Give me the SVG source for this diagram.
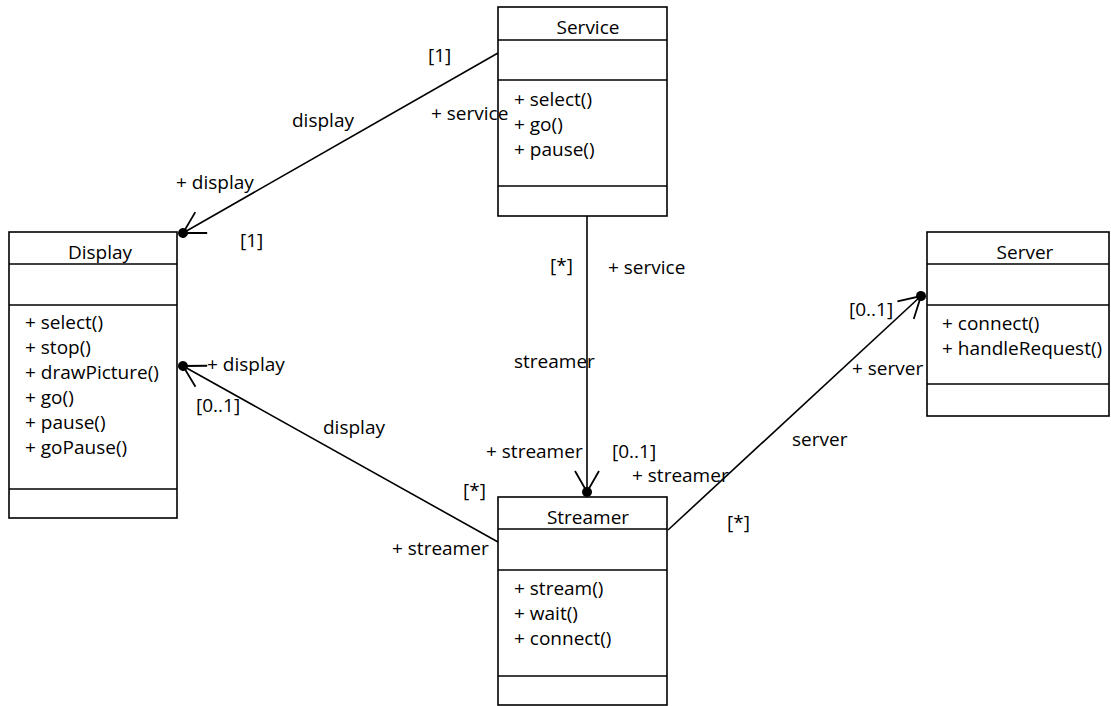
<svg xmlns="http://www.w3.org/2000/svg" width="1111" height="706" viewBox="0 0 1111 706">
  <style>
    .box { fill: #ffffff; stroke: #000000; stroke-width: 1.6; }
    .sep { stroke: #000000; stroke-width: 1.6; }
    .edge { fill: none; stroke: #000000; stroke-width: 1.6; }
    text { font-family: "Open Sans", "Noto Sans", sans-serif; font-size: 19px; fill: #000000; }
    .title { text-anchor: middle; }
  </style>
  <defs>
    <!-- navigable association end: open arrow with a filled dot at the tip -->
    <marker id="navEnd" markerUnits="userSpaceOnUse" orient="auto" refX="0" refY="0"
            markerWidth="50" markerHeight="50" viewBox="-35 -25 50 50" overflow="visible">
      <path d="M -21 -12 L 0 0 L -21 12" fill="none" stroke="#000" stroke-width="1.8"/>
      <circle cx="0" cy="0" r="5" fill="#000"/>
    </marker>
  </defs>

  <rect width="1111" height="706" fill="#ffffff"/>

  <g id="service">
    <rect class="box" x="498" y="7" width="169" height="209"/>
    <line class="sep" x1="498" y1="40" x2="667" y2="40"/>
    <line class="sep" x1="498" y1="80" x2="667" y2="80"/>
    <line class="sep" x1="498" y1="186" x2="667" y2="186"/>
    <text class="title" x="588" y="34">Service</text>
    <text x="514" y="106">+ select()</text>
    <text x="514" y="131">+ go()</text>
    <text x="514" y="156">+ pause()</text>
  </g>

  <g id="display">
    <rect class="box" x="9" y="232" width="168" height="286"/>
    <line class="sep" x1="9" y1="264" x2="177" y2="264"/>
    <line class="sep" x1="9" y1="305" x2="177" y2="305"/>
    <line class="sep" x1="9" y1="489" x2="177" y2="489"/>
    <text class="title" x="100" y="259">Display</text>
    <text x="25" y="329">+ select()</text>
    <text x="25" y="354">+ stop()</text>
    <text x="25" y="379">+ drawPicture()</text>
    <text x="25" y="404">+ go()</text>
    <text x="25" y="429">+ pause()</text>
    <text x="25" y="454">+ goPause()</text>
  </g>

  <g id="streamer">
    <rect class="box" x="498" y="497" width="169" height="208"/>
    <line class="sep" x1="498" y1="529" x2="667" y2="529"/>
    <line class="sep" x1="498" y1="570" x2="667" y2="570"/>
    <line class="sep" x1="498" y1="676" x2="667" y2="676"/>
    <text class="title" x="588" y="524">Streamer</text>
    <text x="514" y="595">+ stream()</text>
    <text x="514" y="620">+ wait()</text>
    <text x="514" y="645">+ connect()</text>
  </g>

  <g id="server">
    <rect class="box" x="927" y="232" width="182" height="184"/>
    <line class="sep" x1="927" y1="264" x2="1109" y2="264"/>
    <line class="sep" x1="927" y1="305" x2="1109" y2="305"/>
    <line class="sep" x1="927" y1="384" x2="1109" y2="384"/>
    <text class="title" x="1025" y="259">Server</text>
    <text x="942" y="330">+ connect()</text>
    <text x="942" y="355">+ handleRequest()</text>
  </g>

  <g id="connectors">
    <path class="edge" d="M 498 53 L 183 233" marker-end="url(#navEnd)"/>
    <path class="edge" d="M 587 216 L 587 492" marker-end="url(#navEnd)"/>
    <path class="edge" d="M 498 542 L 183 366" marker-end="url(#navEnd)"/>
    <path class="edge" d="M 668 530 L 921 296" marker-end="url(#navEnd)"/>

    <!-- Service / Display association labels -->
    <text x="428" y="62">[1]</text>
    <text x="292" y="127">display</text>
    <text x="431" y="120">+ service</text>
    <text x="176" y="189">+ display</text>
    <text x="240" y="247">[1]</text>

    <!-- Service / Streamer association labels -->
    <text x="550" y="272">[*]</text>
    <text x="608" y="274">+ service</text>
    <text x="514" y="368">streamer</text>
    <text x="486" y="458">+ streamer</text>
    <text x="612" y="458">[0..1]</text>

    <!-- Display / Streamer association labels -->
    <text x="207" y="371">+ display</text>
    <text x="196" y="412">[0..1]</text>
    <text x="323" y="434">display</text>
    <text x="463" y="497">[*]</text>
    <text x="392" y="555">+ streamer</text>

    <!-- Streamer / Server association labels -->
    <text x="632" y="482">+ streamer</text>
    <text x="727" y="529">[*]</text>
    <text x="792" y="446">server</text>
    <text x="852" y="375">+ server</text>
    <text x="849" y="316">[0..1]</text>
  </g>
</svg>
